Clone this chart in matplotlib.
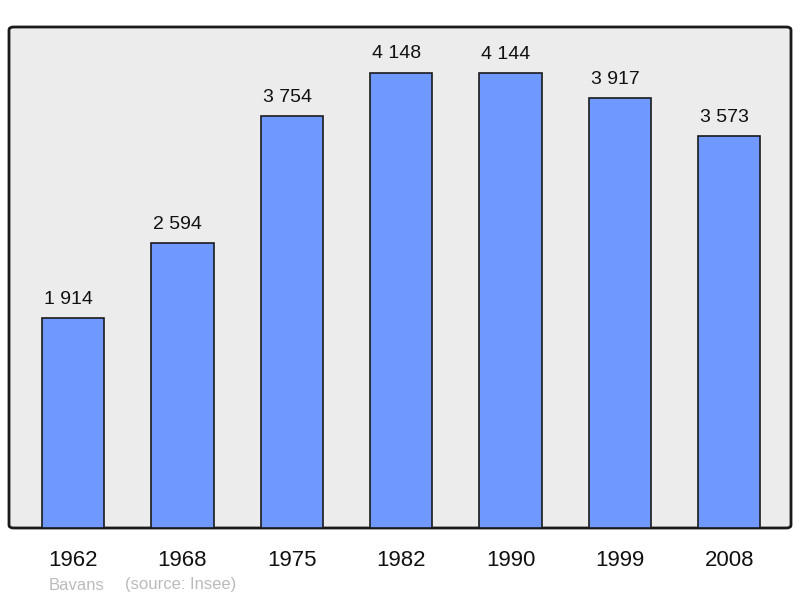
import matplotlib
matplotlib.use("Agg")
import matplotlib.pyplot as plt
from matplotlib.patches import FancyBboxPatch
from matplotlib.transforms import offset_copy

years = ["1962", "1968", "1975", "1982", "1990", "1999", "2008"]
population = [1914, 2594, 3754, 4148, 4144, 3917, 3573]
commune = "Bavans"
source = "(source: Insee)"

plt.rcParams['font.family'] = ['Liberation Sans', 'DejaVu Sans']

fig = plt.figure(figsize=(8, 5.98), dpi=100)
ax = fig.add_axes([9 / 800, 70 / 598, 782 / 800, 501 / 598])
ax.set_facecolor('none')
for s in ax.spines.values():
    s.set_visible(False)

# rounded frame behind the bars
frame = FancyBboxPatch((0, 0), 1, 1, boxstyle="round,pad=0,rounding_size=0.006",
                       transform=ax.transAxes, facecolor='#ececec',
                       edgecolor='#1a1a1a', linewidth=2, zorder=0, clip_on=False)
ax.add_patch(frame)

x = range(len(years))
bars = ax.bar(x, population, width=0.57, color='#7099ff', edgecolor='#1a1a1a',
              linewidth=1.2, zorder=2)
# labels sit a little left of the bar centre in the original
lab_tr = offset_copy(ax.transData, fig=fig, x=-4.5, y=0, units='dots')
for b, v in zip(bars, population):
    lab = "{:,}".format(v).replace(",", " ")
    ax.text(b.get_x() + b.get_width() / 2, v + 92, lab, ha='center',
            va='bottom', fontsize=14, color='#111111', transform=lab_tr)

ax.set_xlim(-0.585, 6.565)
ax.set_ylim(0, max(population) * 1.1)
ax.set_xticks(list(x))
ax.set_xticklabels(years, fontsize=16, color='#111111')
ax.tick_params(axis='x', length=0, pad=15.5)
ax.set_yticks([])

fig.text(49 / 800, 1 - 585 / 598, commune, fontsize=12, color='#bbbbbb',
         va='center', ha='left')
fig.text(125 / 800, 1 - 585 / 598, source, fontsize=12, color='#bbbbbb',
         va='center', ha='left')

fig.savefig('out.png', dpi=100)
